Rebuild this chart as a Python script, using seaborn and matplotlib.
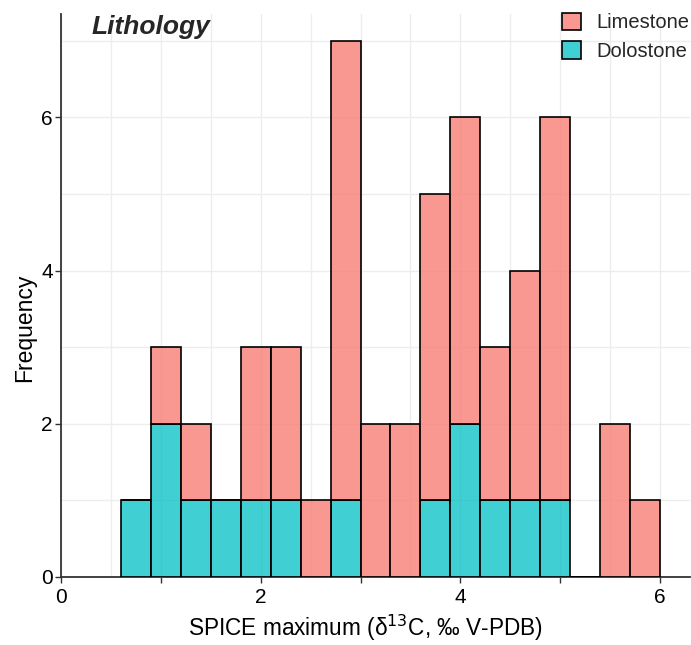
import numpy as np
import pandas as pd
import matplotlib
matplotlib.use("Agg")
import matplotlib.pyplot as plt
import seaborn as sns

# ---- data ----
bin_edges = [0.6, 0.9, 1.2, 1.5, 1.8, 2.1, 2.4, 2.7, 3.0, 3.3, 3.6, 3.9,
             4.2, 4.5, 4.8, 5.1, 5.4, 5.7, 6.0]
limestone_counts = [0, 1, 1, 0, 2, 2, 1, 6, 2, 2, 4, 4, 2, 3, 5, 0, 2, 1]
dolostone_counts = [1, 2, 1, 1, 1, 1, 0, 1, 0, 0, 1, 2, 1, 1, 1, 0, 0, 0]
lithologies = ["Limestone", "Dolostone"]
colors = ["#F8766D", "#00BFC4"]
x_label = r"SPICE maximum (δ$^{13}$C, ‰ V-PDB)"
y_label = "Frequency"
title = "Lithology"

centers = [(a + b) / 2 for a, b in zip(bin_edges[:-1], bin_edges[1:])]
df = pd.DataFrame({
    "spice": centers * 2,
    "count": limestone_counts + dolostone_counts,
    "Lithology": ["Limestone"] * len(centers) + ["Dolostone"] * len(centers),
})

sns.set_theme(style="white")
plt.rcParams["font.family"] = ["Liberation Sans", "DejaVu Sans"]

fig, ax = plt.subplots(figsize=(6.91, 6.45), dpi=100)
fig.subplots_adjust(left=61 / 691, right=690 / 691, top=1 - 14 / 645, bottom=1 - 577 / 645)

sns.histplot(data=df, x="spice", weights="count", hue="Lithology",
             hue_order=lithologies, palette=colors, bins=bin_edges,
             multiple="stack", alpha=0.75, edgecolor="black", linewidth=1.2,
             ax=ax, zorder=3)

ax.set_xlim(0, 6.3)
ax.set_ylim(0, 7.35)

ax.set_xticks(range(0, 7))
ax.set_xticklabels(["0", "", "2", "", "4", "", "6"])
ax.set_xticks(np.arange(0.5, 6.3, 1.0), minor=True)
ax.set_yticks([0, 2, 4, 6])
ax.set_yticks([1, 3, 5, 7], minor=True)
ax.tick_params(axis="both", which="major", length=4, width=1, color="#333333",
               labelsize=15, labelcolor="black", direction="out", pad=2,
               bottom=True, left=True)
ax.tick_params(axis="x", which="major", pad=4)
ax.tick_params(axis="both", which="minor", length=0)
ax.grid(True, which="both", color="#EDEDED", linewidth=1.0, zorder=0)
ax.set_axisbelow(True)

for s in ["top", "right"]:
    ax.spines[s].set_visible(False)
for s in ["left", "bottom"]:
    ax.spines[s].set_color("#333333")
    ax.spines[s].set_linewidth(1.3)

ax.set_xlabel(x_label, fontsize=16.3, color="black")
ax.set_ylabel(y_label, fontsize=16.5, color="black")
ax.xaxis.set_label_coords((365 - 61) / 629, -(613 - 577) / 563)
ax.yaxis.set_label_coords((36 - 61) / 629, (577 - 328) / 563)

ax.text(0.049, 0.998, title, transform=ax.transAxes, fontsize=19,
        fontweight="bold", fontstyle="italic", va="top", ha="left")

sns.move_legend(ax, "upper right", bbox_to_anchor=(1.015, 1.02), frameon=False,
                title=None, fontsize=14.5, handlelength=0.95, handleheight=0.95,
                handletextpad=0.75, labelspacing=0.45, borderaxespad=0.1)

fig.savefig("out.png", dpi=100)
